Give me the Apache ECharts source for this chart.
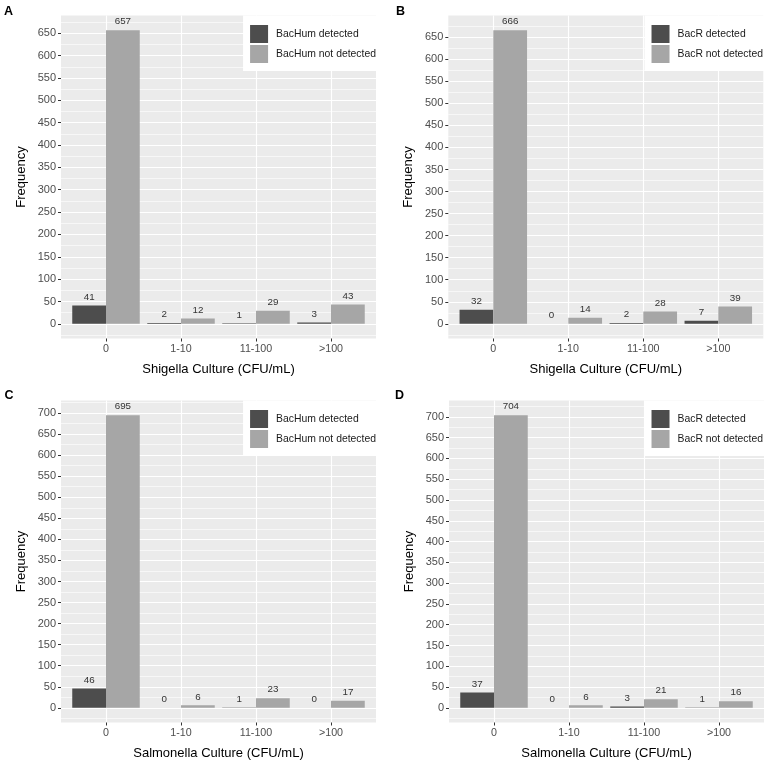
<!DOCTYPE html>
<html>
<head>
<meta charset="utf-8">
<script src="https://cdn.jsdelivr.net/npm/echarts@6/dist/echarts.min.js"></script>
<style>html,body{margin:0;padding:0;background:#fff;}#chart{width:767px;height:763px;}</style>
</head>
<body>
<div id="chart"></div>
<script>
// ---- data ----
const categories = ['0', '1-10', '11-100', '>100'];
const panelLetters = ['A', 'B', 'C', 'D'];
const xTitles = ['Shigella Culture (CFU/mL)', 'Shigella Culture (CFU/mL)', 'Salmonella Culture (CFU/mL)', 'Salmonella Culture (CFU/mL)'];
const yTitle = 'Frequency';
const legendBacHum = ['BacHum detected', 'BacHum not detected'];
const legendBacR = ['BacR detected', 'BacR not detected'];
const aDetected = [41, 2, 1, 3];
const aNotDetected = [657, 12, 29, 43];
const bDetected = [32, 0, 2, 7];
const bNotDetected = [666, 14, 28, 39];
const cDetected = [46, 0, 1, 0];
const cNotDetected = [695, 6, 23, 17];
const dDetected = [37, 0, 3, 1];
const dNotDetected = [704, 6, 21, 16];

// ---- layout / style ----
const W = 767;
const FONT = '"Liberation Sans", Arial, Helvetica, sans-serif';
const DARK = '#4D4D4D', LIGHT = '#A6A6A6';
const panels = [
  { det: aDetected, not: aNotDetected, names: legendBacHum, L: { left: 61, top: 15.5, width: 315, height: 323 }, letter: { x: 4, y: 11.7 } },
  { det: bDetected, not: bNotDetected, names: legendBacR, L: { left: 448.3, top: 15.5, width: 315, height: 323 }, letter: { x: 396, y: 11.7 } },
  { det: cDetected, not: cNotDetected, names: legendBacHum, L: { left: 61, top: 400.5, width: 315, height: 322 }, letter: { x: 4.5, y: 396 } },
  { det: dDetected, not: dNotDetected, names: legendBacR, L: { left: 449, top: 400.5, width: 315, height: 322 }, letter: { x: 395, y: 396 } }
];

const option = {
  animation: false,
  backgroundColor: '#ffffff',
  textStyle: { fontFamily: FONT },
  grid: [], xAxis: [], yAxis: [], series: [], legend: [], graphic: []
};

function hiddenAxis(gi) {
  return { gridIndex: gi, type: 'value', show: false, min: 0, max: 1 };
}

panels.forEach((p, k) => {
  const L = p.L;
  const maxV = Math.max(...p.det, ...p.not);
  const ymin = -0.05 * maxV, ymax = 1.05 * maxV;
  const H = L.height;
  const py = v => L.top + (ymax - v) / (ymax - ymin) * H;
  const band = L.width / (categories.length + 0.2);
  const majorTop = Math.floor(ymax / 50) * 50;
  const minorTop = Math.floor((ymax - 25) / 50) * 50 + 25;
  const gi = option.grid.length;

  // g0: panel background
  option.grid.push({ left: L.left, top: L.top, width: L.width, height: H, show: true, backgroundColor: '#EBEBEB', borderWidth: 0, z: 0 });
  option.xAxis.push(hiddenAxis(gi));
  option.yAxis.push(hiddenAxis(gi));

  // g1: minor horizontal grid lines
  option.grid.push({ left: L.left, top: py(minorTop), width: L.width, height: py(-25) - py(minorTop), show: false });
  option.xAxis.push(hiddenAxis(gi + 1));
  option.yAxis.push({
    gridIndex: gi + 1, type: 'value', min: -25, max: minorTop, interval: 25, z: 1,
    axisLine: { show: false }, axisTick: { show: false }, axisLabel: { show: false },
    splitLine: { show: true, showMinLine: true, showMaxLine: true, lineStyle: { color: '#ffffff', width: 0.6 } }
  });

  // g2: major horizontal grid lines + y labels
  option.grid.push({ left: L.left, top: py(majorTop), width: L.width, height: py(0) - py(majorTop), show: false });
  option.xAxis.push(hiddenAxis(gi + 2));
  option.yAxis.push({
    gridIndex: gi + 2, type: 'value', min: 0, max: majorTop, interval: 50, z: 1,
    axisLine: { show: false },
    axisTick: { show: true, length: 3, lineStyle: { color: '#333333', width: 1 } },
    axisLabel: { color: '#4D4D4D', fontSize: 11, margin: 5, fontFamily: FONT },
    splitLine: { show: true, showMinLine: true, showMaxLine: true, lineStyle: { color: '#ffffff', width: 1.15 } }
  });

  // g3: vertical grid lines at category centres + x labels
  option.grid.push({ left: L.left + 0.6 * band, top: L.top, width: (categories.length - 1) * band, height: H, show: false });
  option.xAxis.push({
    gridIndex: gi + 3, type: 'value', min: 0, max: categories.length - 1, interval: 1, z: 1,
    axisLine: { show: false },
    axisTick: { show: true, length: 3, lineStyle: { color: '#333333', width: 1 } },
    axisLabel: { color: '#4D4D4D', fontSize: 10.7, margin: 5, fontFamily: FONT, formatter: v => categories[v] },
    splitLine: { show: true, showMinLine: true, showMaxLine: true, lineStyle: { color: '#ffffff', width: 1.15 } }
  });
  option.yAxis.push(hiddenAxis(gi + 3));

  // g4: data
  option.grid.push({ left: L.left + 0.1 * band, top: L.top, width: categories.length * band, height: H, show: false });
  option.xAxis.push({ gridIndex: gi + 4, type: 'category', data: categories, show: false });
  option.yAxis.push({ gridIndex: gi + 4, type: 'value', min: ymin, max: ymax, show: false });

  const lbl = { show: true, position: 'top', distance: 3.5, fontSize: 9.8, color: '#333333', fontFamily: FONT };
  option.series.push({
    type: 'bar', name: p.names[0], data: p.det, xAxisIndex: gi + 4, yAxisIndex: gi + 4,
    barWidth: '45%', barGap: '0%', itemStyle: { color: DARK }, label: lbl, z: 3
  });
  option.series.push({
    type: 'bar', name: p.names[1], data: p.not, xAxisIndex: gi + 4, yAxisIndex: gi + 4,
    barWidth: '45%', barGap: '0%', itemStyle: { color: LIGHT }, label: lbl, z: 3
  });

  option.legend.push({
    orient: 'vertical', right: Math.max(0, W - (L.left + L.width) - 4), top: L.top,
    padding: [9.5, 4, 8, 7], itemWidth: 18, itemHeight: 18, itemGap: 2, icon: 'rect',
    backgroundColor: '#ffffff', selectedMode: false, z: 5,
    textStyle: { fontSize: 10.4, color: '#1A1A1A', fontFamily: FONT, padding: [0, 0, 0, 3] },
    data: p.names
  });

  // titles and panel letters
  option.graphic.push({
    type: 'text', x: L.left + L.width / 2, y: L.top + H + 30.5,
    style: { text: xTitles[k], fontSize: 13, fontFamily: FONT, fill: '#000000', align: 'center', verticalAlign: 'middle' }
  });
  option.graphic.push({
    type: 'text', x: L.left - 40, y: L.top + H / 2, rotation: Math.PI / 2,
    style: { text: yTitle, fontSize: 13, fontFamily: FONT, fill: '#000000', align: 'center', verticalAlign: 'middle' }
  });
  option.graphic.push({
    type: 'text', x: p.letter.x, y: p.letter.y,
    style: { text: panelLetters[k], fontSize: 12.5, fontWeight: 'bold', fontFamily: FONT, fill: '#000000', align: 'left', verticalAlign: 'middle' }
  });
});

const chart = echarts.init(document.getElementById('chart'), null, { renderer: 'canvas', width: 767, height: 763 });
chart.setOption(option);
</script>
</body>
</html>
